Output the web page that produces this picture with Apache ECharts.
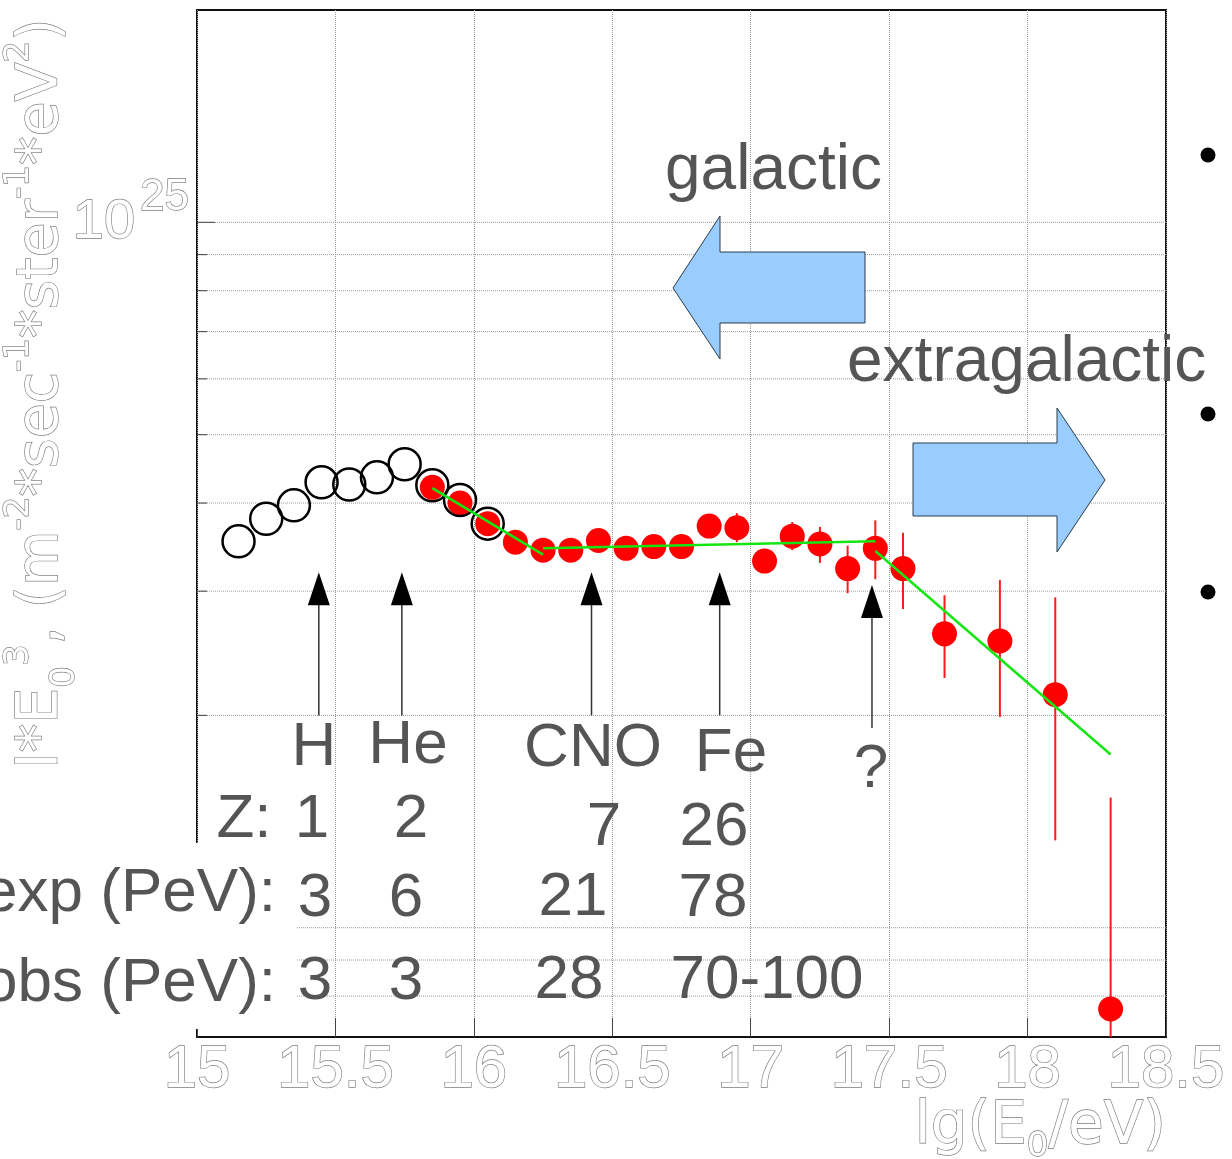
<!DOCTYPE html>
<html><head><meta charset="utf-8">
<script src="https://cdn.jsdelivr.net/npm/echarts@6/dist/echarts.min.js"></script>
<style>html,body{margin:0;padding:0;background:#fff}#c{width:1232px;height:1159px}</style>
</head><body><div id="c"></div>
<script>
// ---- data ----
const xTicks = [15, 15.5, 16, 16.5, 17, 17.5, 18, 18.5];
const yGridValues = [8e23, 9e23, 1e24, 2e24, 3e24, 4e24, 5e24, 6e24, 7e24, 8e24, 9e24, 1e25];

const openX = [15.15, 15.25, 15.35, 15.45, 15.55, 15.65, 15.75, 15.85, 15.95, 16.05];
const openY = [3.53e24, 3.80e24, 3.97e24, 4.28e24, 4.25e24, 4.35e24, 4.54e24, 4.24e24, 4.04e24, 3.74e24];

const redX = [15.85, 15.95, 16.05, 16.15, 16.25, 16.35, 16.45, 16.55, 16.65, 16.75, 16.85, 16.95, 17.05, 17.15, 17.25, 17.35, 17.45, 17.55, 17.7, 17.9, 18.1, 18.3];
const redY = [4.21e24, 4.00e24, 3.74e24, 3.52e24, 3.43e24, 3.43e24, 3.54e24, 3.45e24, 3.47e24, 3.47e24, 3.71e24, 3.69e24, 3.31e24, 3.59e24, 3.50e24, 3.23e24, 3.45e24, 3.23e24, 2.61e24, 2.55e24, 2.14e24, 7.67e23];
const redLo = [null, null, null, null, null, null, null, null, null, null, null, 3.52e24, null, 3.43e24, 3.29e24, 2.98e24, 3.12e24, 2.83e24, 2.26e24, 1.99e24, 1.33e24, 6.0e23];
const redHi = [null, null, null, null, null, null, null, null, null, null, null, 3.87e24, null, 3.76e24, 3.70e24, 3.48e24, 3.78e24, 3.63e24, 2.96e24, 3.11e24, 2.94e24, 1.53e24];

const fit1X = [15.85, 16.25], fit1Y = [4.20e24, 3.38e24];
const fit2X = [16.25, 17.45], fit2Y = [3.45e24, 3.53e24];
const fit3X = [17.45, 18.30], fit3Y = [3.42e24, 1.76e24];

const kneeX = [15.44, 15.74, 16.425, 16.888, 17.438];
const kneeTip = [3.19e24, 3.19e24, 3.19e24, 3.19e24, 3.06e24];
const kneeBase = [2.0e24, 2.0e24, 2.0e24, 2.0e24, 1.92e24];

// ---- chart ----
const chart = echarts.init(document.getElementById('c'), null, {renderer: 'canvas'});
const zip = (a, b) => a.map((v, i) => [v, b[i]]);
const OUT = '#7c7c7c';
const hollow = {color: '#fff', textBorderColor: OUT, textBorderWidth: 1.3};
const txt = '#555';
const F = 'Liberation Sans, Arial, sans-serif';
const D = 'DejaVu Sans, sans-serif';
const hs = {fill: '#fff', stroke: OUT, lineWidth: 1.3};

function label(text, x, y, align, size) {
  return {type: 'text', x: x, y: y, z: 50,
    style: {text: text, fill: txt, font: (size || 62) + 'px ' + F, textAlign: align || 'center', textVerticalAlign: 'middle'}};
}

const fitStyle = {type: 'line', symbol: 'none', z: 6, silent: true, lineStyle: {color: '#14e614', width: 2.5}};

const option = {
  animation: false,
  backgroundColor: '#fff',
  grid: {left: 197, top: 10, right: 66, bottom: 122, show: true, borderColor: '#111', borderWidth: 2, backgroundColor: 'transparent'},
  xAxis: {
    type: 'value', min: xTicks[0], max: xTicks[xTicks.length - 1], interval: 0.5,
    axisLine: {show: false},
    axisTick: {show: true, inside: true, length: 19, lineStyle: {color: '#444', width: 1}},
    axisLabel: Object.assign({fontSize: 60, fontFamily: F, margin: 3}, hollow),
    splitLine: {show: true, lineStyle: {color: '#9a9a9a', width: 1, type: [1, 1]}}
  },
  yAxis: {
    type: 'log', logBase: 10, min: 7e23, max: 2e25,
    axisLine: {show: false}, axisTick: {show: false}, splitLine: {show: false},
    axisLabel: {
      margin: 8,
      formatter: v => Math.abs(Math.log10(v) - 25) < 1e-6 ? '{b|10}{s|25}' : '',
      rich: {
        b: Object.assign({fontSize: 56, fontFamily: F, lineHeight: 92}, hollow),
        s: Object.assign({fontSize: 44, fontFamily: F, lineHeight: 44, verticalAlign: 'top', padding: [0, 0, 0, 5]}, hollow)
      }
    }
  },
  graphic: [
    // cover of the table area at the left
    {type: 'rect', z: 40, shape: {x: 0, y: 843, width: 296, height: 186}, style: {fill: '#fff'}},
    // y axis title
    {type: 'text', x: 42, y: 769, rotation: Math.PI / 2, z: 45,
      style: Object.assign({text: '{m|I*E}{d|0}{u|3}{m|, (m}{u|-2}{m|*sec}{u|-1}{m|*ster}{u|-1}{m|*eV}{u|2}{m|)}',
        textAlign: 'left', textVerticalAlign: 'middle',
        rich: {
          m: Object.assign({fontSize: 57, fontFamily: D, lineHeight: 80}, hs),
          u: Object.assign({fontSize: 34, fontFamily: D, lineHeight: 42, verticalAlign: 'top'}, hs),
          d: Object.assign({fontSize: 34, fontFamily: D, lineHeight: 42, verticalAlign: 'bottom'}, hs)
        }}, hs)},
    // x axis title
    {type: 'text', x: 1166, y: 1128, z: 45,
      style: Object.assign({text: '{m|lg(E}{d|0}{m|/eV)}', textAlign: 'right', textVerticalAlign: 'middle',
        rich: {
          m: Object.assign({fontSize: 58, fontFamily: D, lineHeight: 72}, hs),
          d: Object.assign({fontSize: 34, fontFamily: D, lineHeight: 36, verticalAlign: 'bottom'}, hs)
        }}, hs)},
    // blue arrows
    {type: 'polygon', z: 30, shape: {points: [[673, 288], [720, 216], [720, 252], [865, 252], [865, 323], [720, 323], [720, 359]]},
      style: {fill: '#99ccff', stroke: '#2b3a4a', lineWidth: 1}},
    {type: 'polygon', z: 30, shape: {points: [[913, 443], [1057, 443], [1057, 408], [1105, 480], [1057, 552], [1057, 516], [913, 516]]},
      style: {fill: '#99ccff', stroke: '#2b3a4a', lineWidth: 1}},
    // bullets
    {type: 'circle', z: 30, shape: {cx: 1208, cy: 155, r: 7.5}, style: {fill: '#000'}},
    {type: 'circle', z: 30, shape: {cx: 1208, cy: 414, r: 7.5}, style: {fill: '#000'}},
    {type: 'circle', z: 30, shape: {cx: 1208, cy: 592, r: 7.5}, style: {fill: '#000'}},
    // texts
    label('galactic', 665, 171, 'left', 64),
    label('extragalactic', 847, 363, 'left', 64),
    label('H', 314, 748),
    label('He', 408, 746),
    label('CNO', 593, 749),
    label('Fe', 731, 754),
    label('?', 871, 770),
    label('Z:', 244, 820),
    label('1', 312, 820),
    label('2', 411, 820),
    label('7', 604, 828),
    label('26', 714, 828),
    label('exp (PeV):', 276, 894, 'right'),
    label('3', 315, 899),
    label('6', 406, 899),
    label('21', 573, 898),
    label('78', 713, 899),
    label('obs (PeV):', 276, 984, 'right'),
    label('3', 315, 982),
    label('3', 406, 982),
    label('28', 569, 981),
    label('70-100', 767, 981)
  ],
  series: [
    {
      type: 'custom', name: 'ygrid', z: 1, silent: true,
      data: yGridValues.map(v => [xTicks[0], v]),
      renderItem: (params, api) => {
        const v = api.value(1);
        const a = api.coord([xTicks[0], v]);
        const b = api.coord([xTicks[xTicks.length - 1], v]);
        const lg = Math.log10(v);
        const major = Math.abs(lg - Math.round(lg)) < 1e-9;
        return {type: 'group', children: [
          {type: 'line', shape: {x1: a[0], y1: a[1], x2: b[0], y2: b[1]}, style: {stroke: '#9a9a9a', lineWidth: 1, lineDash: [1, 1]}},
          {type: 'line', shape: {x1: a[0], y1: a[1], x2: a[0] + (major ? 18 : 10), y2: a[1]}, style: {stroke: '#444', lineWidth: 1}}
        ]};
      }
    },
    {
      type: 'custom', name: 'errors', z: 3, silent: true, clip: true,
      data: redX.map((x, i) => [x, redLo[i], redHi[i]]).filter(d => d[1] != null),
      renderItem: (params, api) => {
        const lo = api.coord([api.value(0), api.value(1)]);
        const hi = api.coord([api.value(0), api.value(2)]);
        return {type: 'line', shape: {x1: lo[0], y1: lo[1], x2: hi[0], y2: hi[1]}, style: {stroke: '#ff1a1a', lineWidth: 2}};
      }
    },
    {
      type: 'scatter', name: 'red', z: 4, silent: true, symbol: 'circle', symbolSize: 25,
      itemStyle: {color: '#ff0000', opacity: 1},
      data: zip(redX, redY)
    },
    {
      type: 'scatter', name: 'open', z: 5, silent: true, symbol: 'circle', symbolSize: 32,
      itemStyle: {color: 'rgba(0,0,0,0)', borderColor: '#000', borderWidth: 2.5, opacity: 1},
      data: zip(openX, openY)
    },
    Object.assign({name: 'fit1', data: zip(fit1X, fit1Y)}, fitStyle),
    Object.assign({name: 'fit2', data: zip(fit2X, fit2Y)}, fitStyle),
    Object.assign({name: 'fit3', data: zip(fit3X, fit3Y)}, fitStyle),
    {
      type: 'custom', name: 'knees', z: 6, silent: true,
      data: kneeX.map((x, i) => [x, kneeTip[i], kneeBase[i]]),
      renderItem: (params, api) => {
        const t = api.coord([api.value(0), api.value(1)]);
        const b = api.coord([api.value(0), api.value(2)]);
        return {type: 'group', children: [
          {type: 'line', shape: {x1: t[0], y1: t[1] + 32, x2: b[0], y2: b[1]}, style: {stroke: '#333', lineWidth: 1.5}},
          {type: 'polygon', shape: {points: [[t[0], t[1]], [t[0] - 11, t[1] + 33], [t[0] + 11, t[1] + 33]]}, style: {fill: '#000'}}
        ]};
      }
    }
  ]
};
chart.setOption(option);
</script></body></html>
